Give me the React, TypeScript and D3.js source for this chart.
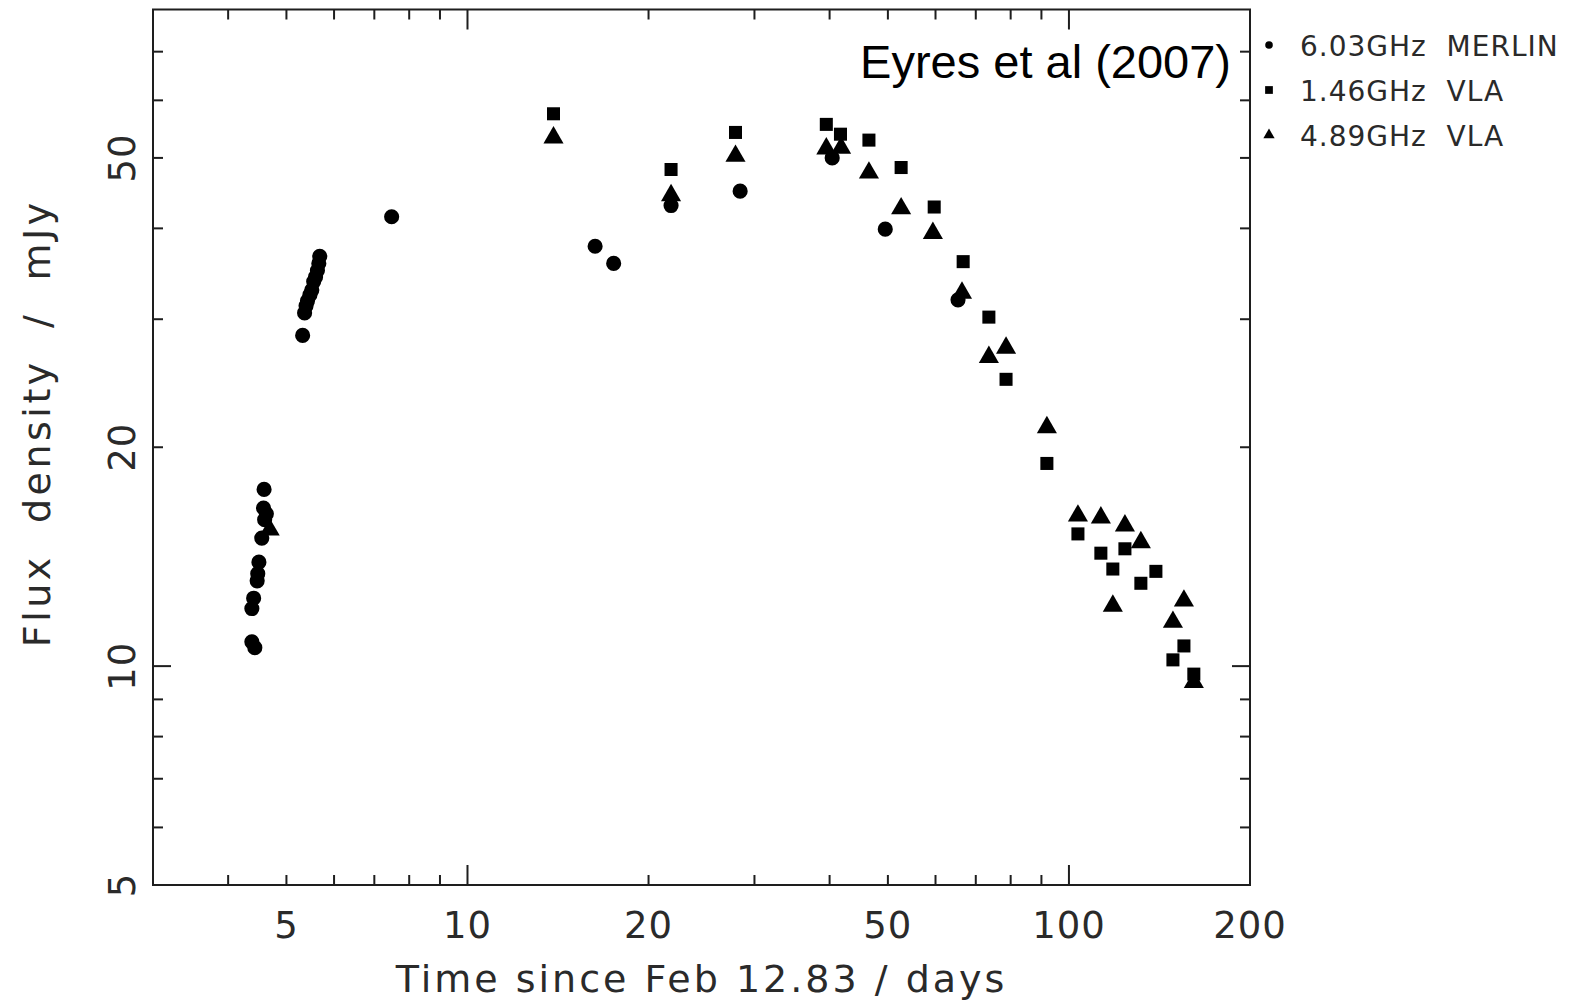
import React from 'react'
import * as d3 from 'd3'

const W = 1569
const H = 1003
const margin = { top: 9.5, right: 319, bottom: 118, left: 153 }
const plotW = W - margin.left - margin.right
const plotH = H - margin.top - margin.bottom

// 6.03GHz MERLIN (circles)
const merlinDays = [
	4.59, 4.58, 4.63, 4.6, 4.55, 4.5, 4.48, 4.47, 4.41, 4.38, 4.38, 4.43,
	5.68, 5.66, 5.63, 5.59, 5.55, 5.51, 5.47, 5.42, 5.39, 5.36, 5.32,
	7.48, 16.3, 17.5, 21.8, 28.4, 40.4, 49.5, 65.4,
]
const merlinFlux = [
	17.5, 16.5, 16.2, 15.9, 15.0, 13.9, 13.4, 13.1, 12.4, 12.0, 10.8, 10.6,
	36.6, 35.8, 35.0, 34.3, 33.8, 32.9, 32.4, 31.8, 31.3, 30.6, 28.5,
	41.5, 37.8, 35.8, 43.0, 45.0, 50.0, 39.9, 31.9,
]

// 1.46GHz VLA (squares)
const vlaLowDays = [
	13.9, 21.8, 27.9, 39.5, 41.7, 46.5, 52.6, 59.7, 66.7, 73.6, 78.6, 91.9,
	103.5, 113, 118.3, 123.9, 131.7, 139.5, 148.9, 155.3, 161.3,
]
const vlaLowFlux = [
	57.5, 48.2, 54.2, 55.6, 53.9, 52.9, 48.5, 42.8, 36.0, 30.2, 24.8, 19.0,
	15.2, 14.3, 13.6, 14.5, 13.0, 13.5, 10.2, 10.66, 9.75,
]

// 4.89GHz VLA (triangles)
const vlaHighDays = [
	4.69, 13.9, 21.8, 27.9, 39.5, 41.8, 46.5, 52.6, 59.4, 66.4, 73.6, 78.6,
	91.9, 103.5, 113, 118.3, 123.9, 131.7, 148.9, 155.3, 161.3,
]
const vlaHighFlux = [
	15.4, 53.3, 44.4, 50.3, 51.5, 51.6, 47.7, 42.6, 39.4, 32.6, 26.6, 27.4,
	21.3, 16.1, 16.0, 12.1, 15.6, 14.8, 11.5, 12.3, 9.5,
]

const xTickLabels = [5, 10, 20, 50, 100, 200]
const yTickLabels = [5, 10, 20, 50]
const legendLabels = ['6.03GHz  MERLIN', '1.46GHz  VLA', '4.89GHz  VLA']

const ink = '#1e1e1e'
const textInk = '#2a2a2a'
const axisFont = '"DejaVu Sans", sans-serif'

const zip = (xs: number[], ys: number[]) => xs.map((d, i) => [d, ys[i]])

export default function App() {
	const x = d3.scaleLog().domain([3, 200]).range([0, plotW])
	const y = d3.scaleLog().domain([5, 80]).range([plotH, 0])

	const isDecade = (v: number) => Math.abs(Math.log10(v) - Math.round(Math.log10(v))) < 1e-9
	const xTicks = x.ticks().filter(v => v > 3 && v < 200)
	const yTicks = y.ticks().filter(v => v > 5 && v < 80)

	const circle = d3.symbol(d3.symbolCircle, 180)()
	const square = d3.symbol(d3.symbolSquare, 170)()
	const triangle = d3.symbol(d3.symbolTriangle, 175)()
	const legendShapes = [
		d3.symbol(d3.symbolCircle, 45)(),
		d3.symbol(d3.symbolSquare, 60)(),
		d3.symbol(d3.symbolTriangle, 55)(),
	]

	const series = [
		{ data: zip(merlinDays, merlinFlux), path: circle },
		{ data: zip(vlaLowDays, vlaLowFlux), path: square },
		{ data: zip(vlaHighDays, vlaHighFlux), path: triangle },
	]

	return (
		<svg width={W} height={H} style={{ position: 'absolute', left: 0, top: 0, background: '#fff' }}>
			<g transform={`translate(${margin.left},${margin.top})`}>
				{/* ticks on all four sides, pointing in */}
				{xTicks.map(v => {
					const len = isDecade(v) ? 20 : 10
					return (
						<g key={'xt' + v} stroke={ink} strokeWidth={2}>
							<line x1={x(v)} x2={x(v)} y1={plotH} y2={plotH - len} />
							<line x1={x(v)} x2={x(v)} y1={0} y2={len} />
						</g>
					)
				})}
				{yTicks.map(v => {
					const len = isDecade(v) ? 18 : 10
					return (
						<g key={'yt' + v} stroke={ink} strokeWidth={2}>
							<line x1={0} x2={len} y1={y(v)} y2={y(v)} />
							<line x1={plotW} x2={plotW - len} y1={y(v)} y2={y(v)} />
						</g>
					)
				})}
				<rect x={0} y={0} width={plotW} height={plotH} fill="none" stroke={ink} strokeWidth={2} />

				{xTickLabels.map(v => (
					<text key={'xl' + v} x={x(v)} y={plotH + 53} textAnchor="middle"
						fontFamily={axisFont} fontSize={37} letterSpacing={1} fill={textInk}>{v}</text>
				))}
				{yTickLabels.map(v => (
					<text key={'yl' + v} transform={`translate(-18,${y(v)}) rotate(-90)`} textAnchor="middle"
						fontFamily={axisFont} fontSize={37} letterSpacing={1} fill={textInk}>{v}</text>
				))}

				<text x={plotW / 2} y={plotH + 107} textAnchor="middle" style={{ whiteSpace: 'pre' }}
					fontFamily={axisFont} fontSize={38} letterSpacing={3} fill={textInk}>Time since Feb 12.83 / days</text>
				<text transform={`translate(-103,${plotH / 2 - 24}) rotate(-90)`} textAnchor="middle"
					style={{ whiteSpace: 'pre' }}
					fontFamily={axisFont} fontSize={38} letterSpacing={3.5} fill={textInk}>Flux  density  /  mJy</text>

				{series.map((s, si) => (
					<g key={'s' + si} fill="#000">
						{s.data.map((d, i) => (
							<path key={i} d={s.path ?? ''} transform={`translate(${x(d[0])},${y(d[1])})`} />
						))}
					</g>
				))}

				<text x={plotW - 19} y={68} textAnchor="end"
					fontFamily='"Liberation Sans", Arial, sans-serif' fontSize={47} fill="#000">Eyres et al (2007)</text>
			</g>

			<g transform="translate(1269,0)">
				{legendLabels.map((label, i) => (
					<g key={label} transform={`translate(0,${45 + i * 45})`}>
						<path d={legendShapes[i] ?? ''} fill="#000" />
						<text x={31} y={11} fontFamily={axisFont} fontSize={28} letterSpacing={1} fill={textInk}
							style={{ whiteSpace: 'pre' }}>{label}</text>
					</g>
				))}
			</g>
		</svg>
	)
}
